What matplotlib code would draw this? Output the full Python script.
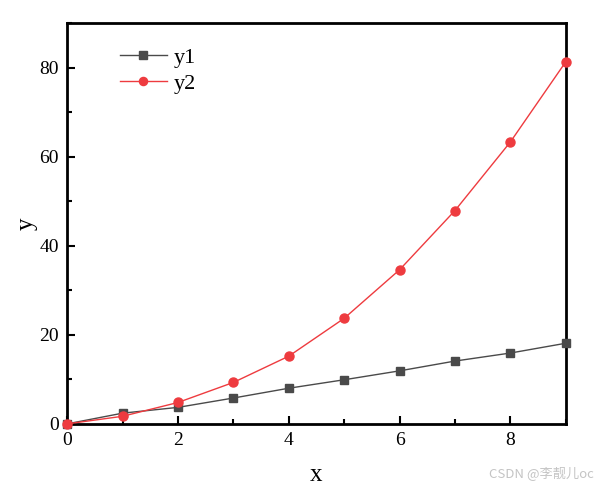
import numpy as np
import matplotlib
matplotlib.use("Agg")
from matplotlib import pyplot as plt
from matplotlib.ticker import MultipleLocator

# 全局字体
plt.rcParams["font.family"] = ["Liberation Serif", "DejaVu Serif"]
plt.rcParams["mathtext.fontset"] = "stix"

# 数据
x = [0, 1, 2, 3, 4, 5, 6, 7, 8, 9]
y1 = [0, 2.4, 3.7, 5.8, 8.0, 9.9, 11.9, 14.1, 15.9, 18.1]
y2 = [0, 1.7, 4.8, 9.3, 15.2, 23.7, 34.6, 47.9, 63.3, 81.3]
xticks = [0, 2, 4, 6, 8]
yticks = [0, 20, 40, 60, 80]

fig = plt.figure(figsize=(6.11, 4.9), dpi=100)
ax = fig.add_axes([0.110, 0.135, 0.816, 0.818])

ax.plot(x, y1, color="#4a4a4a", lw=1.0, marker="s", ms=6, label="y1", clip_on=False, zorder=3)
ax.plot(x, y2, color="#ee3b3f", lw=1.0, marker="o", ms=6.5, label="y2", clip_on=False, zorder=4)

ax.set_xlim(0, 9)
ax.set_ylim(0, 90)
ax.set_xticks(xticks)
ax.set_yticks(yticks)
ax.xaxis.set_minor_locator(MultipleLocator(1))
ax.yaxis.set_minor_locator(MultipleLocator(10))

for s in ax.spines.values():
    s.set_linewidth(2)
ax.tick_params(which="major", direction="in", length=6, width=1.5, labelsize=14, pad=6)
ax.tick_params(which="minor", direction="in", length=3.5, width=1.5)

ax.set_xlabel("x", fontsize=18, labelpad=11)
ax.set_ylabel("y", fontsize=18, labelpad=1)

ax.legend(loc="upper left", bbox_to_anchor=(0.066, 0.99), frameon=False,
          fontsize=16, handlelength=2.1, handletextpad=0.3, labelspacing=0.26,
          markerscale=0.9)

fig.text(0.972, 0.02, "CSDN @李靓儿oc", ha="right", va="bottom", fontsize=9.5,
         color="#c4c4c4", family=["Noto Sans CJK SC", "DejaVu Sans"])

plt.savefig("out.png", dpi=100)
